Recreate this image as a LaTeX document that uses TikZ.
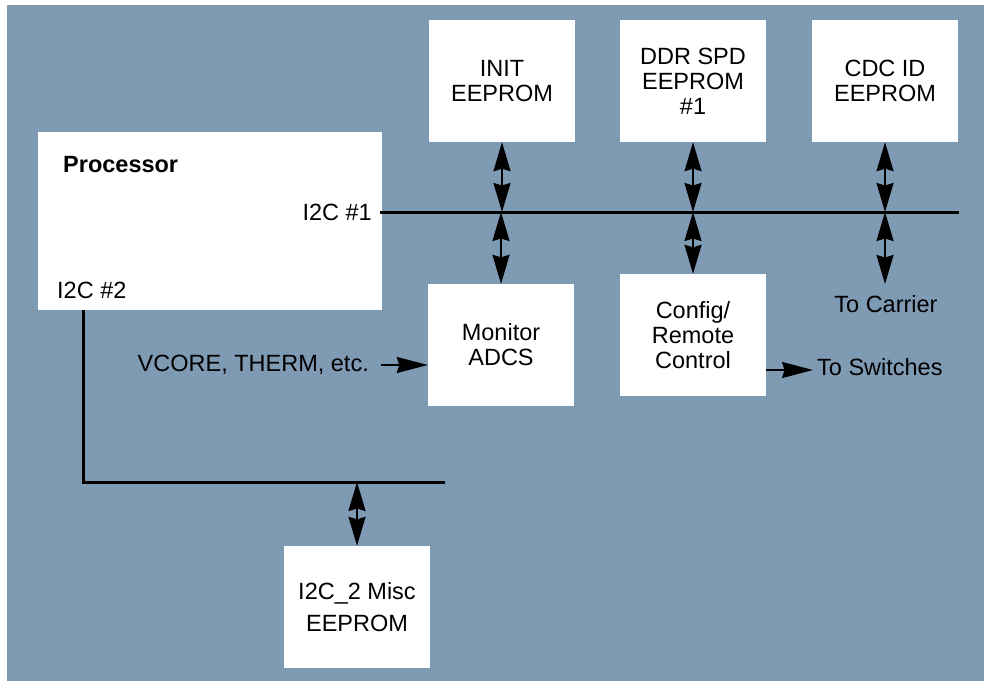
\documentclass[tikz,border=0pt]{standalone}
\usepackage{fontspec}
\setmainfont{Liberation Sans}
\usetikzlibrary{arrows.meta}
\definecolor{panelblue}{RGB}{127,154,179}
\tikzset{
  headtip/.tip={Stealth[length=29pt,width=17pt,inset=2.5pt]},
  longtip/.tip={Stealth[length=31pt,width=16pt,inset=2.5pt]}
}
\begin{document}
\begin{tikzpicture}[x=1pt,y=-1pt,
  every node/.style={inner sep=0pt, font=\fontsize{23.5}{25}\selectfont},
  blockbox/.style={fill=white, draw=none, minimum width=146pt, minimum height=122pt, align=center},
  busline/.style={line width=3pt},
  link/.style={line width=2pt, headtip-headtip},
  oneway/.style={line width=2pt, -longtip}
]
% page and backdrop
\useasboundingbox (0,0) rectangle (984,682);
\fill[white] (0,0) rectangle (984,682);
\fill[panelblue] (7,5) rectangle (984,681);

% processor block with its port labels
\node[fill=white, minimum width=344pt, minimum height=178pt] (proc) at (210,221) {};
\node[anchor=base west, font=\fontsize{23.5}{25}\selectfont\bfseries] (proclbl) at (63,172) {Processor};
\node[anchor=east] (p1) at (372,212) {I2C \#1};
\node[anchor=base west] (p2) at (57,298) {I2C \#2};

% devices
\node[blockbox] (init) at (502,81) {INIT\\EEPROM};
\node[blockbox] (ddr)  at (693,81) {DDR SPD\\EEPROM\\\#1};
\node[blockbox] (cdc)  at (885,81) {CDC ID\\EEPROM};
\node[blockbox] (mon)  at (501,345) {Monitor\\ADCS};
\node[blockbox] (cfg)  at (693,335) {Config/\\Remote\\Control};
\node[blockbox, font=\fontsize{23.5}{32}\selectfont] (misc) at (357,607) {I2C\_2 Misc\\EEPROM};

% I2C #1 bus
\coordinate (b1s) at (380,212);
\coordinate (b1e) at (959,212);
\draw[busline] (b1s) -- (b1e);
\draw[link] (init.south) -- (init.south |- b1s);
\draw[link] (mon.north) -- (mon.north |- b1s);
\draw[link] (ddr.south) -- (ddr.south |- b1s);
\draw[link] (cfg.north) -- (cfg.north |- b1s);
\draw[link] (cdc.south) -- (cdc.south |- b1s);
\coordinate (carrier) at (885,284);
\draw[link] (carrier |- b1s) -- (carrier);
\node (carrierlbl) at (886,304) {To Carrier};

% I2C #2 bus
\coordinate (b2top) at (83,310);
\coordinate (b2c) at (83,482);
\coordinate (b2e) at (445,482);
\draw[busline] (b2top) -- (b2c) -- (b2e);
\draw[link] (misc.north |- b2c) -- (misc.north);

% side signals
\node[anchor=east] (vcore) at (369,365) {VCORE, THERM, etc.};
\draw[oneway] ([xshift=12pt]vcore.east) -- (vcore.east -| mon.west);
\coordinate (swout) at (813,370);
\draw[oneway] (cfg.east |- swout) -- (swout);
\node[anchor=west] (swlbl) at (817,367) {To Switches};
\end{tikzpicture}
\end{document}
